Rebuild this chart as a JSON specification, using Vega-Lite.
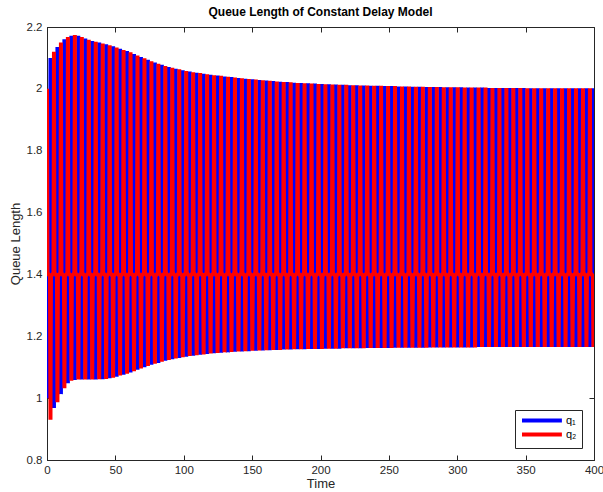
{
"$schema": "https://vega.github.io/schema/vega-lite/v6.json",
"width": 547, "height": 433,
"autosize": "none",
"padding": {"left": 47, "top": 27, "right": 9, "bottom": 32},
"background": "white",
"title": {"text": "Queue Length of Constant Delay Model", "fontSize": 12, "font": "Liberation Sans", "fontWeight": "bold", "color": "#000000", "anchor": "middle", "offset": 2},
"config": {
  "view": {"stroke": "#262626", "strokeWidth": 1},
  "axis": {"grid": false, "domainColor": "#262626", "tickColor": "#262626", "labelColor": "#262626", "labelFont": "Liberation Sans", "labelFontSize": 11.5, "titleFont": "Liberation Sans", "titleFontSize": 13, "titleFontWeight": "normal", "titleColor": "#262626", "tickSize": -5, "domainWidth": 1, "tickWidth": 1, "zindex": 1}
},
"layer": [
{
  "data": {"values": [
{"t":0,"q1":1.0,"q2":2.0},{"t":0.35,"q1":1.394,"q2":1.406},{"t":2.195,"q1":1.406,"q2":1.394},
{"t":2.545,"q1":2.1,"q2":0.93},{"t":2.895,"q1":1.406,"q2":1.394},{"t":4.74,"q1":1.394,"q2":1.406},
{"t":5.09,"q1":0.968,"q2":2.12},{"t":5.44,"q1":1.394,"q2":1.406},{"t":7.285,"q1":1.406,"q2":1.394},
{"t":7.635,"q1":2.135,"q2":0.987},{"t":7.985,"q1":1.406,"q2":1.394},{"t":9.83,"q1":1.394,"q2":1.406},
{"t":10.18,"q1":1.013,"q2":2.15},{"t":10.53,"q1":1.394,"q2":1.406},{"t":12.375,"q1":1.406,"q2":1.394},
{"t":12.725,"q1":2.16,"q2":1.032},{"t":13.075,"q1":1.406,"q2":1.394},{"t":14.92,"q1":1.394,"q2":1.406},
{"t":15.27,"q1":1.048,"q2":2.168},{"t":15.62,"q1":1.394,"q2":1.406},{"t":17.465,"q1":1.406,"q2":1.394},
{"t":17.815,"q1":2.172,"q2":1.056},{"t":18.165,"q1":1.406,"q2":1.394},{"t":20.01,"q1":1.394,"q2":1.406},
{"t":20.36,"q1":1.059,"q2":2.174},{"t":20.71,"q1":1.394,"q2":1.406},{"t":22.555,"q1":1.406,"q2":1.394},
{"t":22.905,"q1":2.172,"q2":1.06},{"t":23.255,"q1":1.406,"q2":1.394},{"t":25.1,"q1":1.394,"q2":1.406},
{"t":25.45,"q1":1.06,"q2":2.168},{"t":25.8,"q1":1.394,"q2":1.406},{"t":27.645,"q1":1.406,"q2":1.394},
{"t":27.995,"q1":2.163,"q2":1.06},{"t":28.345,"q1":1.406,"q2":1.394},{"t":30.19,"q1":1.394,"q2":1.406},
{"t":30.54,"q1":1.06,"q2":2.159},{"t":30.89,"q1":1.394,"q2":1.406},{"t":32.735,"q1":1.406,"q2":1.394},
{"t":33.085,"q1":2.155,"q2":1.06},{"t":33.435,"q1":1.406,"q2":1.394},{"t":35.28,"q1":1.394,"q2":1.406},
{"t":35.63,"q1":1.06,"q2":2.152},{"t":35.98,"q1":1.394,"q2":1.406},{"t":37.825,"q1":1.406,"q2":1.394},
{"t":38.175,"q1":2.15,"q2":1.061},{"t":38.525,"q1":1.406,"q2":1.394},{"t":40.37,"q1":1.394,"q2":1.406},
{"t":40.72,"q1":1.061,"q2":2.147},{"t":41.07,"q1":1.394,"q2":1.406},{"t":42.915,"q1":1.406,"q2":1.394},
{"t":43.265,"q1":2.144,"q2":1.062},{"t":43.615,"q1":1.406,"q2":1.394},{"t":45.46,"q1":1.394,"q2":1.406},
{"t":45.81,"q1":1.064,"q2":2.141},{"t":46.16,"q1":1.394,"q2":1.406},{"t":48.005,"q1":1.406,"q2":1.394},
{"t":48.355,"q1":2.138,"q2":1.066},{"t":48.705,"q1":1.406,"q2":1.394},{"t":50.55,"q1":1.394,"q2":1.406},
{"t":50.9,"q1":1.069,"q2":2.134},{"t":51.25,"q1":1.394,"q2":1.406},{"t":53.095,"q1":1.406,"q2":1.394},
{"t":53.445,"q1":2.13,"q2":1.073},{"t":53.795,"q1":1.406,"q2":1.394},{"t":55.64,"q1":1.394,"q2":1.406},
{"t":55.99,"q1":1.076,"q2":2.126},{"t":56.34,"q1":1.394,"q2":1.406},{"t":58.185,"q1":1.406,"q2":1.394},
{"t":58.535,"q1":2.122,"q2":1.079},{"t":58.885,"q1":1.406,"q2":1.394},{"t":60.73,"q1":1.394,"q2":1.406},
{"t":61.08,"q1":1.083,"q2":2.118},{"t":61.43,"q1":1.394,"q2":1.406},{"t":63.275,"q1":1.406,"q2":1.394},
{"t":63.625,"q1":2.113,"q2":1.087},{"t":63.975,"q1":1.406,"q2":1.394},{"t":65.82,"q1":1.394,"q2":1.406},
{"t":66.17,"q1":1.092,"q2":2.108},{"t":66.52,"q1":1.394,"q2":1.406},{"t":68.365,"q1":1.406,"q2":1.394},
{"t":68.715,"q1":2.103,"q2":1.096},{"t":69.065,"q1":1.406,"q2":1.394},{"t":70.91,"q1":1.394,"q2":1.406},
{"t":71.26,"q1":1.1,"q2":2.099},{"t":71.61,"q1":1.394,"q2":1.406},{"t":73.455,"q1":1.406,"q2":1.394},
{"t":73.805,"q1":2.094,"q2":1.104},{"t":74.155,"q1":1.406,"q2":1.394},{"t":76.0,"q1":1.394,"q2":1.406},
{"t":76.35,"q1":1.108,"q2":2.089},{"t":76.7,"q1":1.394,"q2":1.406},{"t":78.545,"q1":1.406,"q2":1.394},
{"t":78.895,"q1":2.085,"q2":1.111},{"t":79.245,"q1":1.406,"q2":1.394},{"t":81.09,"q1":1.394,"q2":1.406},
{"t":81.44,"q1":1.114,"q2":2.081},{"t":81.79,"q1":1.394,"q2":1.406},{"t":83.635,"q1":1.406,"q2":1.394},
{"t":83.985,"q1":2.078,"q2":1.118},{"t":84.335,"q1":1.406,"q2":1.394},{"t":86.18,"q1":1.394,"q2":1.406},
{"t":86.53,"q1":1.121,"q2":2.074},{"t":86.88,"q1":1.394,"q2":1.406},{"t":88.725,"q1":1.406,"q2":1.394},
{"t":89.075,"q1":2.071,"q2":1.123},{"t":89.425,"q1":1.406,"q2":1.394},{"t":91.27,"q1":1.394,"q2":1.406},
{"t":91.62,"q1":1.126,"q2":2.068},{"t":91.97,"q1":1.394,"q2":1.406},{"t":93.815,"q1":1.406,"q2":1.394},
{"t":94.165,"q1":2.065,"q2":1.128},{"t":94.515,"q1":1.406,"q2":1.394},{"t":96.36,"q1":1.394,"q2":1.406},
{"t":96.71,"q1":1.13,"q2":2.063},{"t":97.06,"q1":1.394,"q2":1.406},{"t":98.905,"q1":1.406,"q2":1.394},
{"t":99.255,"q1":2.06,"q2":1.132},{"t":99.605,"q1":1.406,"q2":1.394},{"t":101.45,"q1":1.394,"q2":1.406},
{"t":101.8,"q1":1.134,"q2":2.058},{"t":102.15,"q1":1.394,"q2":1.406},{"t":103.995,"q1":1.406,"q2":1.394},
{"t":104.345,"q1":2.056,"q2":1.136},{"t":104.695,"q1":1.406,"q2":1.394},{"t":106.54,"q1":1.394,"q2":1.406},
{"t":106.89,"q1":1.137,"q2":2.054},{"t":107.24,"q1":1.394,"q2":1.406},{"t":109.085,"q1":1.406,"q2":1.394},
{"t":109.435,"q1":2.052,"q2":1.139},{"t":109.785,"q1":1.406,"q2":1.394},{"t":111.63,"q1":1.394,"q2":1.406},
{"t":111.98,"q1":1.14,"q2":2.051},{"t":112.33,"q1":1.394,"q2":1.406},{"t":114.175,"q1":1.406,"q2":1.394},
{"t":114.525,"q1":2.049,"q2":1.141},{"t":114.875,"q1":1.406,"q2":1.394},{"t":116.72,"q1":1.394,"q2":1.406},
{"t":117.07,"q1":1.143,"q2":2.047},{"t":117.42,"q1":1.394,"q2":1.406},{"t":119.265,"q1":1.406,"q2":1.394},
{"t":119.615,"q1":2.046,"q2":1.144},{"t":119.965,"q1":1.406,"q2":1.394},{"t":121.81,"q1":1.394,"q2":1.406},
{"t":122.16,"q1":1.145,"q2":2.044},{"t":122.51,"q1":1.394,"q2":1.406},{"t":124.355,"q1":1.406,"q2":1.394},
{"t":124.705,"q1":2.043,"q2":1.146},{"t":125.055,"q1":1.406,"q2":1.394},{"t":126.9,"q1":1.394,"q2":1.406},
{"t":127.25,"q1":1.147,"q2":2.042},{"t":127.6,"q1":1.394,"q2":1.406},{"t":129.445,"q1":1.406,"q2":1.394},
{"t":129.795,"q1":2.04,"q2":1.148},{"t":130.145,"q1":1.406,"q2":1.394},{"t":131.99,"q1":1.394,"q2":1.406},
{"t":132.34,"q1":1.148,"q2":2.039},{"t":132.69,"q1":1.394,"q2":1.406},{"t":134.535,"q1":1.406,"q2":1.394},
{"t":134.885,"q1":2.038,"q2":1.149},{"t":135.235,"q1":1.406,"q2":1.394},{"t":137.08,"q1":1.394,"q2":1.406},
{"t":137.43,"q1":1.15,"q2":2.037},{"t":137.78,"q1":1.394,"q2":1.406},{"t":139.625,"q1":1.406,"q2":1.394},
{"t":139.975,"q1":2.035,"q2":1.151},{"t":140.325,"q1":1.406,"q2":1.394},{"t":142.17,"q1":1.394,"q2":1.406},
{"t":142.52,"q1":1.151,"q2":2.034},{"t":142.87,"q1":1.394,"q2":1.406},{"t":144.715,"q1":1.406,"q2":1.394},
{"t":145.065,"q1":2.033,"q2":1.152},{"t":145.415,"q1":1.406,"q2":1.394},{"t":147.26,"q1":1.394,"q2":1.406},
{"t":147.61,"q1":1.152,"q2":2.032},{"t":147.96,"q1":1.394,"q2":1.406},{"t":149.805,"q1":1.406,"q2":1.394},
{"t":150.155,"q1":2.031,"q2":1.153},{"t":150.505,"q1":1.406,"q2":1.394},{"t":152.35,"q1":1.394,"q2":1.406},
{"t":152.7,"q1":1.153,"q2":2.03},{"t":153.05,"q1":1.394,"q2":1.406},{"t":154.895,"q1":1.406,"q2":1.394},
{"t":155.245,"q1":2.029,"q2":1.154},{"t":155.595,"q1":1.406,"q2":1.394},{"t":157.44,"q1":1.394,"q2":1.406},
{"t":157.79,"q1":1.154,"q2":2.028},{"t":158.14,"q1":1.394,"q2":1.406},{"t":159.985,"q1":1.406,"q2":1.394},
{"t":160.335,"q1":2.027,"q2":1.155},{"t":160.685,"q1":1.406,"q2":1.394},{"t":162.53,"q1":1.394,"q2":1.406},
{"t":162.88,"q1":1.155,"q2":2.026},{"t":163.23,"q1":1.394,"q2":1.406},{"t":165.075,"q1":1.406,"q2":1.394},
{"t":165.425,"q1":2.025,"q2":1.156},{"t":165.775,"q1":1.406,"q2":1.394},{"t":167.62,"q1":1.394,"q2":1.406},
{"t":167.97,"q1":1.156,"q2":2.024},{"t":168.32,"q1":1.394,"q2":1.406},{"t":170.165,"q1":1.406,"q2":1.394},
{"t":170.515,"q1":2.023,"q2":1.156},{"t":170.865,"q1":1.406,"q2":1.394},{"t":172.71,"q1":1.394,"q2":1.406},
{"t":173.06,"q1":1.157,"q2":2.022},{"t":173.41,"q1":1.394,"q2":1.406},{"t":175.255,"q1":1.406,"q2":1.394},
{"t":175.605,"q1":2.022,"q2":1.157},{"t":175.955,"q1":1.406,"q2":1.394},{"t":177.8,"q1":1.394,"q2":1.406},
{"t":178.15,"q1":1.157,"q2":2.021},{"t":178.5,"q1":1.394,"q2":1.406},{"t":180.345,"q1":1.406,"q2":1.394},
{"t":180.695,"q1":2.02,"q2":1.158},{"t":181.045,"q1":1.406,"q2":1.394},{"t":182.89,"q1":1.394,"q2":1.406},
{"t":183.24,"q1":1.158,"q2":2.019},{"t":183.59,"q1":1.394,"q2":1.406},{"t":185.435,"q1":1.406,"q2":1.394},
{"t":185.785,"q1":2.019,"q2":1.158},{"t":186.135,"q1":1.406,"q2":1.394},{"t":187.98,"q1":1.394,"q2":1.406},
{"t":188.33,"q1":1.158,"q2":2.018},{"t":188.68,"q1":1.394,"q2":1.406},{"t":190.525,"q1":1.406,"q2":1.394},
{"t":190.875,"q1":2.018,"q2":1.159},{"t":191.225,"q1":1.406,"q2":1.394},{"t":193.07,"q1":1.394,"q2":1.406},
{"t":193.42,"q1":1.159,"q2":2.017},{"t":193.77,"q1":1.394,"q2":1.406},{"t":195.615,"q1":1.406,"q2":1.394},
{"t":195.965,"q1":2.017,"q2":1.159},{"t":196.315,"q1":1.406,"q2":1.394},{"t":198.16,"q1":1.394,"q2":1.406},
{"t":198.51,"q1":1.159,"q2":2.016},{"t":198.86,"q1":1.394,"q2":1.406},{"t":200.705,"q1":1.406,"q2":1.394},
{"t":201.055,"q1":2.016,"q2":1.159},{"t":201.405,"q1":1.406,"q2":1.394},{"t":203.25,"q1":1.394,"q2":1.406},
{"t":203.6,"q1":1.16,"q2":2.015},{"t":203.95,"q1":1.394,"q2":1.406},{"t":205.795,"q1":1.406,"q2":1.394},
{"t":206.145,"q1":2.015,"q2":1.16},{"t":206.495,"q1":1.406,"q2":1.394},{"t":208.34,"q1":1.394,"q2":1.406},
{"t":208.69,"q1":1.16,"q2":2.014},{"t":209.04,"q1":1.394,"q2":1.406},{"t":210.885,"q1":1.406,"q2":1.394},
{"t":211.235,"q1":2.014,"q2":1.16},{"t":211.585,"q1":1.406,"q2":1.394},{"t":213.43,"q1":1.394,"q2":1.406},
{"t":213.78,"q1":1.16,"q2":2.013},{"t":214.13,"q1":1.394,"q2":1.406},{"t":215.975,"q1":1.406,"q2":1.394},
{"t":216.325,"q1":2.013,"q2":1.161},{"t":216.675,"q1":1.406,"q2":1.394},{"t":218.52,"q1":1.394,"q2":1.406},
{"t":218.87,"q1":1.161,"q2":2.013},{"t":219.22,"q1":1.394,"q2":1.406},{"t":221.065,"q1":1.406,"q2":1.394},
{"t":221.415,"q1":2.012,"q2":1.161},{"t":221.765,"q1":1.406,"q2":1.394},{"t":223.61,"q1":1.394,"q2":1.406},
{"t":223.96,"q1":1.161,"q2":2.012},{"t":224.31,"q1":1.394,"q2":1.406},{"t":226.155,"q1":1.406,"q2":1.394},
{"t":226.505,"q1":2.012,"q2":1.161},{"t":226.855,"q1":1.406,"q2":1.394},{"t":228.7,"q1":1.394,"q2":1.406},
{"t":229.05,"q1":1.161,"q2":2.011},{"t":229.4,"q1":1.394,"q2":1.406},{"t":231.245,"q1":1.406,"q2":1.394},
{"t":231.595,"q1":2.011,"q2":1.161},{"t":231.945,"q1":1.406,"q2":1.394},{"t":233.79,"q1":1.394,"q2":1.406},
{"t":234.14,"q1":1.162,"q2":2.011},{"t":234.49,"q1":1.394,"q2":1.406},{"t":236.335,"q1":1.406,"q2":1.394},
{"t":236.685,"q1":2.01,"q2":1.162},{"t":237.035,"q1":1.406,"q2":1.394},{"t":238.88,"q1":1.394,"q2":1.406},
{"t":239.23,"q1":1.162,"q2":2.01},{"t":239.58,"q1":1.394,"q2":1.406},{"t":241.425,"q1":1.406,"q2":1.394},
{"t":241.775,"q1":2.01,"q2":1.162},{"t":242.125,"q1":1.406,"q2":1.394},{"t":243.97,"q1":1.394,"q2":1.406},
{"t":244.32,"q1":1.162,"q2":2.01},{"t":244.67,"q1":1.394,"q2":1.406},{"t":246.515,"q1":1.406,"q2":1.394},
{"t":246.865,"q1":2.009,"q2":1.162},{"t":247.215,"q1":1.406,"q2":1.394},{"t":249.06,"q1":1.394,"q2":1.406},
{"t":249.41,"q1":1.162,"q2":2.009},{"t":249.76,"q1":1.394,"q2":1.406},{"t":251.605,"q1":1.406,"q2":1.394},
{"t":251.955,"q1":2.009,"q2":1.162},{"t":252.305,"q1":1.406,"q2":1.394},{"t":254.15,"q1":1.394,"q2":1.406},
{"t":254.5,"q1":1.163,"q2":2.009},{"t":254.85,"q1":1.394,"q2":1.406},{"t":256.695,"q1":1.406,"q2":1.394},
{"t":257.045,"q1":2.008,"q2":1.163},{"t":257.395,"q1":1.406,"q2":1.394},{"t":259.24,"q1":1.394,"q2":1.406},
{"t":259.59,"q1":1.163,"q2":2.008},{"t":259.94,"q1":1.394,"q2":1.406},{"t":261.785,"q1":1.406,"q2":1.394},
{"t":262.135,"q1":2.008,"q2":1.163},{"t":262.485,"q1":1.406,"q2":1.394},{"t":264.33,"q1":1.394,"q2":1.406},
{"t":264.68,"q1":1.163,"q2":2.008},{"t":265.03,"q1":1.394,"q2":1.406},{"t":266.875,"q1":1.406,"q2":1.394},
{"t":267.225,"q1":2.007,"q2":1.163},{"t":267.575,"q1":1.406,"q2":1.394},{"t":269.42,"q1":1.394,"q2":1.406},
{"t":269.77,"q1":1.163,"q2":2.007},{"t":270.12,"q1":1.394,"q2":1.406},{"t":271.965,"q1":1.406,"q2":1.394},
{"t":272.315,"q1":2.007,"q2":1.163},{"t":272.665,"q1":1.406,"q2":1.394},{"t":274.51,"q1":1.394,"q2":1.406},
{"t":274.86,"q1":1.163,"q2":2.007},{"t":275.21,"q1":1.394,"q2":1.406},{"t":277.055,"q1":1.406,"q2":1.394},
{"t":277.405,"q1":2.006,"q2":1.163},{"t":277.755,"q1":1.406,"q2":1.394},{"t":279.6,"q1":1.394,"q2":1.406},
{"t":279.95,"q1":1.164,"q2":2.006},{"t":280.3,"q1":1.394,"q2":1.406},{"t":282.145,"q1":1.406,"q2":1.394},
{"t":282.495,"q1":2.006,"q2":1.164},{"t":282.845,"q1":1.406,"q2":1.394},{"t":284.69,"q1":1.394,"q2":1.406},
{"t":285.04,"q1":1.164,"q2":2.006},{"t":285.39,"q1":1.394,"q2":1.406},{"t":287.235,"q1":1.406,"q2":1.394},
{"t":287.585,"q1":2.006,"q2":1.164},{"t":287.935,"q1":1.406,"q2":1.394},{"t":289.78,"q1":1.394,"q2":1.406},
{"t":290.13,"q1":1.164,"q2":2.005},{"t":290.48,"q1":1.394,"q2":1.406},{"t":292.325,"q1":1.406,"q2":1.394},
{"t":292.675,"q1":2.005,"q2":1.164},{"t":293.025,"q1":1.406,"q2":1.394},{"t":294.87,"q1":1.394,"q2":1.406},
{"t":295.22,"q1":1.164,"q2":2.005},{"t":295.57,"q1":1.394,"q2":1.406},{"t":297.415,"q1":1.406,"q2":1.394},
{"t":297.765,"q1":2.005,"q2":1.164},{"t":298.115,"q1":1.406,"q2":1.394},{"t":299.96,"q1":1.394,"q2":1.406},
{"t":300.31,"q1":1.164,"q2":2.005},{"t":300.66,"q1":1.394,"q2":1.406},{"t":302.505,"q1":1.406,"q2":1.394},
{"t":302.855,"q1":2.005,"q2":1.164},{"t":303.205,"q1":1.406,"q2":1.394},{"t":305.05,"q1":1.394,"q2":1.406},
{"t":305.4,"q1":1.164,"q2":2.004},{"t":305.75,"q1":1.394,"q2":1.406},{"t":307.595,"q1":1.406,"q2":1.394},
{"t":307.945,"q1":2.004,"q2":1.164},{"t":308.295,"q1":1.406,"q2":1.394},{"t":310.14,"q1":1.394,"q2":1.406},
{"t":310.49,"q1":1.164,"q2":2.004},{"t":310.84,"q1":1.394,"q2":1.406},{"t":312.685,"q1":1.406,"q2":1.394},
{"t":313.035,"q1":2.004,"q2":1.164},{"t":313.385,"q1":1.406,"q2":1.394},{"t":315.23,"q1":1.394,"q2":1.406},
{"t":315.58,"q1":1.165,"q2":2.004},{"t":315.93,"q1":1.394,"q2":1.406},{"t":317.775,"q1":1.406,"q2":1.394},
{"t":318.125,"q1":2.004,"q2":1.165},{"t":318.475,"q1":1.406,"q2":1.394},{"t":320.32,"q1":1.394,"q2":1.406},
{"t":320.67,"q1":1.165,"q2":2.004},{"t":321.02,"q1":1.394,"q2":1.406},{"t":322.865,"q1":1.406,"q2":1.394},
{"t":323.215,"q1":2.003,"q2":1.165},{"t":323.565,"q1":1.406,"q2":1.394},{"t":325.41,"q1":1.394,"q2":1.406},
{"t":325.76,"q1":1.165,"q2":2.003},{"t":326.11,"q1":1.394,"q2":1.406},{"t":327.955,"q1":1.406,"q2":1.394},
{"t":328.305,"q1":2.003,"q2":1.165},{"t":328.655,"q1":1.406,"q2":1.394},{"t":330.5,"q1":1.394,"q2":1.406},
{"t":330.85,"q1":1.165,"q2":2.003},{"t":331.2,"q1":1.394,"q2":1.406},{"t":333.045,"q1":1.406,"q2":1.394},
{"t":333.395,"q1":2.003,"q2":1.165},{"t":333.745,"q1":1.406,"q2":1.394},{"t":335.59,"q1":1.394,"q2":1.406},
{"t":335.94,"q1":1.165,"q2":2.003},{"t":336.29,"q1":1.394,"q2":1.406},{"t":338.135,"q1":1.406,"q2":1.394},
{"t":338.485,"q1":2.003,"q2":1.165},{"t":338.835,"q1":1.406,"q2":1.394},{"t":340.68,"q1":1.394,"q2":1.406},
{"t":341.03,"q1":1.165,"q2":2.003},{"t":341.38,"q1":1.394,"q2":1.406},{"t":343.225,"q1":1.406,"q2":1.394},
{"t":343.575,"q1":2.003,"q2":1.165},{"t":343.925,"q1":1.406,"q2":1.394},{"t":345.77,"q1":1.394,"q2":1.406},
{"t":346.12,"q1":1.165,"q2":2.003},{"t":346.47,"q1":1.394,"q2":1.406},{"t":348.315,"q1":1.406,"q2":1.394},
{"t":348.665,"q1":2.003,"q2":1.165},{"t":349.015,"q1":1.406,"q2":1.394},{"t":350.86,"q1":1.394,"q2":1.406},
{"t":351.21,"q1":1.165,"q2":2.002},{"t":351.56,"q1":1.394,"q2":1.406},{"t":353.405,"q1":1.406,"q2":1.394},
{"t":353.755,"q1":2.002,"q2":1.165},{"t":354.105,"q1":1.406,"q2":1.394},{"t":355.95,"q1":1.394,"q2":1.406},
{"t":356.3,"q1":1.165,"q2":2.002},{"t":356.65,"q1":1.394,"q2":1.406},{"t":358.495,"q1":1.406,"q2":1.394},
{"t":358.845,"q1":2.002,"q2":1.165},{"t":359.195,"q1":1.406,"q2":1.394},{"t":361.04,"q1":1.394,"q2":1.406},
{"t":361.39,"q1":1.165,"q2":2.002},{"t":361.74,"q1":1.394,"q2":1.406},{"t":363.585,"q1":1.406,"q2":1.394},
{"t":363.935,"q1":2.002,"q2":1.165},{"t":364.285,"q1":1.406,"q2":1.394},{"t":366.13,"q1":1.394,"q2":1.406},
{"t":366.48,"q1":1.165,"q2":2.002},{"t":366.83,"q1":1.394,"q2":1.406},{"t":368.675,"q1":1.406,"q2":1.394},
{"t":369.025,"q1":2.002,"q2":1.165},{"t":369.375,"q1":1.406,"q2":1.394},{"t":371.22,"q1":1.394,"q2":1.406},
{"t":371.57,"q1":1.165,"q2":2.002},{"t":371.92,"q1":1.394,"q2":1.406},{"t":373.765,"q1":1.406,"q2":1.394},
{"t":374.115,"q1":2.002,"q2":1.165},{"t":374.465,"q1":1.406,"q2":1.394},{"t":376.31,"q1":1.394,"q2":1.406},
{"t":376.66,"q1":1.165,"q2":2.002},{"t":377.01,"q1":1.394,"q2":1.406},{"t":378.855,"q1":1.406,"q2":1.394},
{"t":379.205,"q1":2.002,"q2":1.165},{"t":379.555,"q1":1.406,"q2":1.394},{"t":381.4,"q1":1.394,"q2":1.406},
{"t":381.75,"q1":1.165,"q2":2.002},{"t":382.1,"q1":1.394,"q2":1.406},{"t":383.945,"q1":1.406,"q2":1.394},
{"t":384.295,"q1":2.002,"q2":1.165},{"t":384.645,"q1":1.406,"q2":1.394},{"t":386.49,"q1":1.394,"q2":1.406},
{"t":386.84,"q1":1.165,"q2":2.002},{"t":387.19,"q1":1.394,"q2":1.406},{"t":389.035,"q1":1.406,"q2":1.394},
{"t":389.385,"q1":2.002,"q2":1.165},{"t":389.735,"q1":1.406,"q2":1.394},{"t":391.58,"q1":1.394,"q2":1.406},
{"t":391.93,"q1":1.165,"q2":2.002},{"t":392.28,"q1":1.394,"q2":1.406},{"t":394.125,"q1":1.406,"q2":1.394},
{"t":394.475,"q1":2.002,"q2":1.165},{"t":394.825,"q1":1.406,"q2":1.394},{"t":396.67,"q1":1.394,"q2":1.406},
{"t":397.02,"q1":1.165,"q2":2.002},{"t":397.37,"q1":1.394,"q2":1.406},{"t":399.215,"q1":1.406,"q2":1.394},
{"t":399.565,"q1":2.002,"q2":1.165}
  ]},
  "transform": [{"fold": ["q1", "q2"], "as": ["s", "v"]}],
  "mark": {"type": "line", "strokeWidth": 4, "clip": true},
  "encoding": {
    "x": {"field": "t", "type": "quantitative", "scale": {"domain": [0, 400], "nice": false},
          "axis": {"orient": "bottom", "title": "Time", "values": [0,50,100,150,200,250,300,350,400], "labelPadding": 9, "titlePadding": 2, "labelFlush": false}},
    "y": {"field": "v", "type": "quantitative", "scale": {"domain": [0.8, 2.2], "nice": false, "zero": false},
          "axis": {"orient": "left", "title": "Queue Length", "values": [0.8,1,1.2,1.4,1.6,1.8,2,2.2], "format": "~g", "labelPadding": 10, "titlePadding": 4, "labelFlush": false}},
    "color": {"field": "s", "type": "nominal", "scale": {"domain": ["q1", "q2"], "range": ["#0000ff", "#ff0000"]},
      "legend": {"orient": "bottom-right", "offset": 12, "title": null, "symbolType": "M-1,0H10.4", "symbolSize": 49, "symbolStrokeWidth": 4, "labelFontSize": 11, "labelFont": "Liberation Sans", "labelColor": "#000000", "fillColor": "white", "strokeColor": "#262626", "padding": 5, "rowPadding": -7, "labelOffset": 35, "cornerRadius": 0, "labelExpr": "datum.label == 'q1' ? 'q\u2081' : 'q\u2082'"}}
  }
},
{
  "data": {"values": [{"t": 0, "v": 0.8}]},
  "mark": {"type": "point", "opacity": 0},
  "encoding": {
    "x": {"field": "t", "type": "quantitative", "scale": {"domain": [0, 400], "nice": false},
          "axis": {"orient": "top", "title": null, "labels": false, "domain": false, "values": [0,50,100,150,200,250,300,350,400]}},
    "y": {"field": "v", "type": "quantitative", "scale": {"domain": [0.8, 2.2], "nice": false, "zero": false},
          "axis": {"orient": "right", "title": null, "labels": false, "domain": false, "values": [0.8,1,1.2,1.4,1.6,1.8,2,2.2]}}
  }
}
],
"resolve": {"axis": {"x": "independent", "y": "independent"}}
}
